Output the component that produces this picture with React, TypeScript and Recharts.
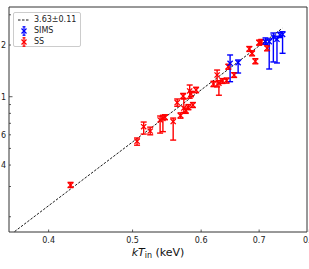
import {
  ComposedChart, Scatter, XAxis, YAxis, ErrorBar, ReferenceLine, ReferenceArea,
} from 'recharts'

// ─── Data ─────────────────────────────────────────────────────────────────────

const ssX = [0.424, 0.506, 0.515, 0.524, 0.538, 0.542, 0.545, 0.557, 0.563, 0.568, 0.572, 0.573, 0.576, 0.580, 0.582, 0.584, 0.587, 0.592, 0.620, 0.626, 0.629, 0.635, 0.642, 0.645, 0.655, 0.682, 0.687, 0.693, 0.700, 0.704, 0.715]
const ssY = [0.306, 0.550, 0.669, 0.631, 0.732, 0.748, 0.759, 0.717, 0.925, 0.777, 1.009, 0.859, 0.831, 0.868, 1.080, 1.037, 0.895, 1.094, 1.186, 1.338, 1.200, 1.235, 1.243, 1.496, 1.338, 1.897, 1.790, 1.609, 2.064, 2.084, 1.915]
const ssLo = [0.296, 0.522, 0.606, 0.600, 0.614, 0.626, 0.735, 0.559, 0.880, 0.750, 0.975, 0.810, 0.800, 0.840, 0.980, 1.000, 0.865, 1.055, 1.145, 1.140, 1.020, 1.195, 1.200, 1.445, 1.295, 1.835, 1.730, 1.555, 1.995, 2.015, 1.850]
const ssHi = [0.317, 0.575, 0.712, 0.665, 0.772, 0.780, 0.785, 0.751, 0.970, 0.805, 1.045, 0.970, 0.860, 0.900, 1.170, 1.075, 0.925, 1.135, 1.230, 1.430, 1.240, 1.275, 1.285, 1.545, 1.380, 1.960, 1.850, 1.665, 2.135, 2.155, 1.980]

const simsX = [0.648, 0.662, 0.712, 0.719, 0.727, 0.734, 0.740, 0.745]
const simsY = [1.565, 1.578, 2.092, 2.092, 2.228, 2.160, 2.289, 2.304]
const simsLo = [1.223, 1.374, 2.020, 1.450, 1.594, 1.572, 2.210, 1.790]
const simsHi = [1.750, 1.636, 2.200, 2.170, 2.350, 2.250, 2.370, 2.390]

const fitX = [0.3654, 0.7445]
const fitY = [0.164, 2.504]
const fitLabel = '3.63±0.11'

const xTicks = [0.4, 0.5, 0.6, 0.7, 0.8]
const xTickLabels = ['0.4', '0.5', '0.6', '0.7', '0.8']
const yTicks = [0.2, 0.3, 0.4, 0.5, 0.6, 0.7, 0.8, 0.9, 1, 2, 3]
const yTickLabels = ['', '', '4', '', '6', '', '', '', '1', '2', '']

const X_DOMAIN: [number, number] = [0.36, 0.795]
const Y_DOMAIN: [number, number] = [0.163, 3.33]

// ─── Layout ───────────────────────────────────────────────────────────────────

const W = 309
const H = 269
const Y_AXIS_W = 9
const X_AXIS_H = 30
const MARGIN = { top: 7, right: 2, left: 0, bottom: 7 }
const PLOT_LEFT = MARGIN.left + Y_AXIS_W
const PLOT_BOTTOM = H - MARGIN.bottom - X_AXIS_H
const FONT = '"DejaVu Sans", sans-serif'
const RED = '#ff0000'
const BLUE = '#0000ff'

function toRows(xs: number[], ys: number[], lo: number[], hi: number[]) {
  return xs.map((x, i) => ({ x, y: ys[i], err: [ys[i] - lo[i], hi[i] - ys[i]] }))
}

const ssData = toRows(ssX, ssY, ssLo, ssHi)
const simsData = toRows(simsX, simsY, simsLo, simsHi)

// ─── Shapes / ticks ───────────────────────────────────────────────────────────

function cross(color: string) {
  return (props: any) => {
    const { cx, cy } = props
    const s = 2.6
    return (
      <g stroke={color} strokeWidth={1.3}>
        <line x1={cx - s} y1={cy - s} x2={cx + s} y2={cy + s} />
        <line x1={cx - s} y1={cy + s} x2={cx + s} y2={cy - s} />
      </g>
    )
  }
}

const renderXTick = (props: any) => {
  const { x, payload } = props
  const i = xTicks.indexOf(payload.value)
  return (
    <g key={`xt-${payload.value}`}>
      <line x1={x} x2={x} y1={PLOT_BOTTOM} y2={PLOT_BOTTOM - 2.5} stroke="#333" strokeWidth={0.8} />
      <text x={x} y={PLOT_BOTTOM + 11} textAnchor="middle" fontSize={8} fontFamily={FONT} fill="#222">
        {i >= 0 ? xTickLabels[i] : ''}
      </text>
    </g>
  )
}

const renderYTick = (props: any) => {
  const { y, payload } = props
  const i = yTicks.indexOf(payload.value)
  const major = payload.value === 1
  return (
    <g key={`yt-${payload.value}`}>
      <line x1={PLOT_LEFT} x2={PLOT_LEFT + (major ? 3.5 : 2)} y1={y} y2={y} stroke="#333" strokeWidth={0.8} />
      <text x={PLOT_LEFT - 3} y={y + 3} textAnchor="end" fontSize={8} fontFamily={FONT} fill="#222">
        {i >= 0 ? yTickLabels[i] : ''}
      </text>
    </g>
  )
}

function LegendMarker({ color }: { color: string }) {
  return (
    <svg width={14} height={10} style={{ display: 'block' }}>
      <g stroke={color} strokeWidth={1.2}>
        <line x1={4.5} y1={2.5} x2={9.5} y2={7.5} />
        <line x1={4.5} y1={7.5} x2={9.5} y2={2.5} />
        <line x1={7} y1={0.5} x2={7} y2={9.5} />
        <line x1={5.5} y1={0.8} x2={8.5} y2={0.8} />
        <line x1={5.5} y1={9.2} x2={8.5} y2={9.2} />
      </g>
    </svg>
  )
}

// ─── Component ────────────────────────────────────────────────────────────────

export default function App() {
  return (
    <div style={{ position: 'relative', width: W, height: H, fontFamily: FONT }}>
      <style>{'body{margin:0}'}</style>
      <ComposedChart width={W} height={H} margin={MARGIN}>
        <XAxis
          dataKey="x"
          type="number"
          scale="log"
          domain={X_DOMAIN}
          allowDataOverflow
          ticks={xTicks}
          interval={0}
          tick={renderXTick}
          tickLine={false}
          axisLine={false}
          height={X_AXIS_H}
        />
        <YAxis
          dataKey="y"
          type="number"
          scale="log"
          domain={Y_DOMAIN}
          allowDataOverflow
          ticks={yTicks}
          interval={0}
          tick={renderYTick}
          tickLine={false}
          axisLine={false}
          width={Y_AXIS_W}
        />
        <ReferenceArea
          x1={X_DOMAIN[0]} x2={X_DOMAIN[1]} y1={Y_DOMAIN[0]} y2={Y_DOMAIN[1]}
          fill="none" stroke="#333" strokeWidth={1} fillOpacity={0}
        />
        <ReferenceLine
          segment={[{ x: fitX[0], y: fitY[0] }, { x: fitX[1], y: fitY[1] }]}
          stroke="#000" strokeDasharray="2.5 1.5" strokeWidth={0.9}
        />
        <Scatter data={ssData} shape={cross(RED)} isAnimationActive={false}>
          <ErrorBar dataKey="err" direction="y" width={3} stroke={RED} strokeWidth={1.4} />
        </Scatter>
        <Scatter data={simsData} shape={cross(BLUE)} isAnimationActive={false}>
          <ErrorBar dataKey="err" direction="y" width={3} stroke={BLUE} strokeWidth={1.4} />
        </Scatter>
      </ComposedChart>

      {/* legend */}
      <div style={{
        position: 'absolute', left: 13, top: 12, width: 68, height: 35,
        border: '1px solid #ccc', borderRadius: 2, background: 'rgba(255,255,255,0.8)',
        fontSize: 8, color: '#222', boxSizing: 'border-box', padding: '1px 0 0 3px',
      }}>
        <div style={{ display: 'flex', alignItems: 'center', height: 11 }}>
          <svg width={14} height={10} style={{ display: 'block' }}>
            <line x1={1} x2={13} y1={5} y2={5} stroke="#000" strokeWidth={0.9} strokeDasharray="2.5 1.5" />
          </svg>
          <span style={{ marginLeft: 3 }}>{fitLabel}</span>
        </div>
        <div style={{ display: 'flex', alignItems: 'center', height: 11 }}>
          <LegendMarker color={BLUE} />
          <span style={{ marginLeft: 3 }}>SIMS</span>
        </div>
        <div style={{ display: 'flex', alignItems: 'center', height: 11 }}>
          <LegendMarker color={RED} />
          <span style={{ marginLeft: 3 }}>SS</span>
        </div>
      </div>

      {/* x-axis title */}
      <div style={{
        position: 'absolute', left: 58, width: 200, top: 246, textAlign: 'center',
        fontSize: 11, color: '#111', whiteSpace: 'nowrap',
      }}>
        <i>kT</i><sub style={{ fontSize: 8, verticalAlign: -2 }}>in</sub> (keV)
      </div>
    </div>
  )
}
